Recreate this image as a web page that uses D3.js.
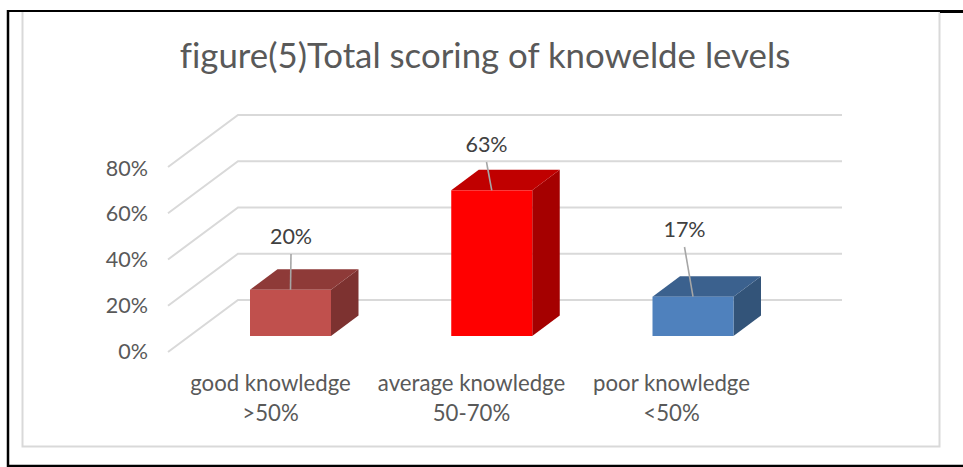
<!DOCTYPE html>
<html><head><meta charset="utf-8">
<script src="https://cdn.jsdelivr.net/npm/d3@7/dist/d3.min.js"></script>
<style>html,body{margin:0;padding:0;background:#fff}svg{display:block}text{font-family:Lato,sans-serif;font-variant-ligatures:none}</style>
</head><body><svg id="c" width="963" height="467"></svg>
<script>
const titleText = "figure(5)Total scoring of knowelde levels";
const categories = ["good knowledge >50%", "average knowledge 50-70%", "poor knowledge <50%"];
const categoryLines = [["good knowledge", ">50%"], ["average knowledge", "50-70%"], ["poor knowledge", "<50%"]];
const values = [0.20, 0.63, 0.17];
const valueLabels = ["20%", "63%", "17%"];
const yTicks = [0, 0.2, 0.4, 0.6, 0.8];
const frontColors = ["#c0504d", "#ff0000", "#4f81bd"];
const topColors = ["#8e3a38", "#c00000", "#3b618e"];
const sideColors = ["#7d3230", "#a50000", "#335479"];

const svg = d3.select("#c");
const depth = {x: 70, y: -52};
const barDepth = {x: 27.5, y: -20.5};
const floorFront = 352;
const y = d3.scaleLinear().domain([0, 0.8]).range([0, -185]);
const tickY = d3.scaleLinear().domain([0, 0.8]).range([358.5, 175.5]);
const barFront = 336;
const barX = d3.scalePoint().domain(categories).range([250, 652.5]);
const barW = 81;

// frames
svg.append("rect").attr("x",22.5).attr("y",11).attr("width",917).attr("height",435.5)
  .attr("fill","#fff").attr("stroke","#d9d9d9").attr("stroke-width",2);
svg.append("path").attr("d","M8,11H963").attr("stroke","#000").attr("stroke-width",2).attr("fill","none");
svg.append("path").attr("d","M940,11.5H963").attr("stroke","#000").attr("stroke-width",3).attr("fill","none");
svg.append("path").attr("d","M8,10V466H963").attr("stroke","#000").attr("stroke-width",2.5).attr("fill","none");

// title
svg.append("text").attr("x",485).attr("y",68).attr("text-anchor","middle")
  .attr("font-size",34.8).attr("fill","#595959").text(titleText);

// gridlines
const grid = svg.append("g").attr("fill","none").attr("stroke","#d9d9d9").attr("stroke-width",2);
grid.selectAll("path").data(yTicks).join("path")
  .attr("d", d => {
    const fy = floorFront + y(d);
    const p = d3.path();
    p.moveTo(168, fy);
    p.lineTo(168 + depth.x, fy + depth.y);
    p.lineTo(842, fy + depth.y);
    return p.toString();
  });

// y tick labels
svg.append("g").selectAll("text").data(yTicks).join("text")
  .attr("x",148).attr("y", d => tickY(d))
  .attr("text-anchor","end").attr("font-size",21.5).attr("fill","#595959")
  .text(d => d3.format(".0%")(d));

// bars
const bars = svg.append("g").selectAll("g").data(categories).join("g");
bars.append("path").attr("fill",(d,i)=>sideColors[i])
  .attr("d",(d,i)=>{
    const l = barX(d)+barW, t = barFront + y(values[i]), b = barFront;
    return `M${l},${b}L${l},${t}L${l+barDepth.x},${t+barDepth.y}L${l+barDepth.x},${b+barDepth.y}Z`;
  });
bars.append("path").attr("fill",(d,i)=>topColors[i])
  .attr("d",(d,i)=>{
    const l = barX(d), t = barFront + y(values[i]);
    return `M${l},${t}L${l+barW},${t}L${l+barW+barDepth.x},${t+barDepth.y}L${l+barDepth.x},${t+barDepth.y}Z`;
  });
bars.append("rect").attr("fill",(d,i)=>frontColors[i])
  .attr("x",d=>barX(d)).attr("width",barW)
  .attr("y",(d,i)=>barFront + y(values[i])).attr("height",(d,i)=>-y(values[i]));

// leader lines and value labels
const labelX = [291, 486.5, 684.5];
const labelTop = [254, 162, 247];
bars.append("line").attr("stroke","#a6a6a6").attr("stroke-width",1.6)
  .attr("x1",d=>barX(d)+barW/2).attr("y1",(d,i)=>barFront + y(values[i]))
  .attr("x2",(d,i)=>labelX[i]).attr("y2",(d,i)=>labelTop[i]);
bars.append("text").attr("x",(d,i)=>labelX[i]).attr("y",(d,i)=>labelTop[i]-10)
  .attr("text-anchor","middle").attr("font-size",21.5).attr("fill","#404040")
  .text((d,i)=>valueLabels[i]);

// category labels
const catCenter = [270.5, 471.5, 671.5];
const cat = svg.append("g").selectAll("text").data(categories).join("text")
  .attr("text-anchor","middle").attr("font-size",22.2).attr("fill","#595959");
cat.selectAll("tspan").data((d,i)=>categoryLines[i].map(t=>({t,i}))).join("tspan")
  .attr("x",d=>catCenter[d.i]).attr("y",(d,j)=>391+j*30).text(d=>d.t);
</script></body></html>
